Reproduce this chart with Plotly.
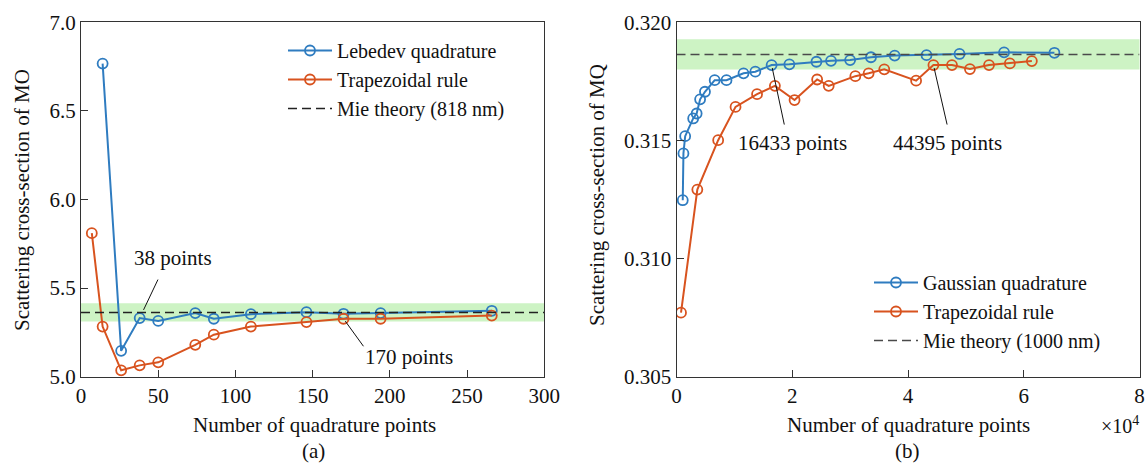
import plotly.graph_objects as go

# ---------------- data: panel (a) ----------------
leb_x = [14, 26, 38, 50, 74, 86, 110, 146, 170, 194, 266]
leb_y = [6.767, 5.146, 5.331, 5.315, 5.359, 5.327, 5.353, 5.364, 5.355, 5.359, 5.372]
trap_a_x = [7, 14, 26, 38, 50, 74, 86, 110, 146, 170, 194, 266]
trap_a_y = [5.81, 5.283, 5.036, 5.064, 5.081, 5.18, 5.237, 5.283, 5.308, 5.327, 5.327, 5.345]
mie_a = 5.362
band_a = [5.312, 5.415]

# ---------------- data: panel (b) ----------------
gauss_x = [1080, 1200, 1500, 2880, 3480, 4080, 4920, 6600, 8640, 11580, 13620, 16433,
           19500, 24180, 26700, 30000, 33600, 37700, 43200, 48900, 56600, 65300]
gauss_y = [0.31247, 0.31445, 0.31518, 0.31593, 0.31614, 0.31674, 0.31706, 0.31755, 0.31755,
           0.31784, 0.31791, 0.31819, 0.31822, 0.31833, 0.31837, 0.31840, 0.31852, 0.31859,
           0.31861, 0.31866, 0.31873, 0.31871]
trap_b_x = [780, 3600, 7200, 10200, 13920, 17000, 20400, 24300, 26300, 30900, 33200, 35900,
            41400, 44395, 47600, 50700, 54000, 57600, 61400]
trap_b_y = [0.30771, 0.31292, 0.31501, 0.31642, 0.31696, 0.31731, 0.31671, 0.31758, 0.31731,
            0.31772, 0.31784, 0.31801, 0.31753, 0.31819, 0.31819, 0.31802, 0.31819, 0.31826,
            0.31836]
mie_b = 0.31864
band_b = [0.31800, 0.31928]

xticks_b = [0, 20000, 40000, 60000, 80000]
xticktext_b = ["0", "2", "4", "6", "8"]

BLUE = "#2F7CC0"
RED = "#D8531F"
GREEN = "#CDF3C4"
FONT = "Liberation Serif, Times New Roman, DejaVu Serif, serif"
FS = 21
W, H = 1145, 465

fig = go.Figure()

mk = dict(symbol="circle-open", size=10, line=dict(width=1.8))

fig.add_trace(go.Scatter(x=leb_x, y=leb_y, mode="lines+markers", name="Lebedev quadrature",
                         line=dict(color=BLUE, width=2), marker=dict(color=BLUE, **mk),
                         xaxis="x", yaxis="y", legend="legend"))
fig.add_trace(go.Scatter(x=trap_a_x, y=trap_a_y, mode="lines+markers", name="Trapezoidal rule",
                         line=dict(color=RED, width=2), marker=dict(color=RED, **mk),
                         xaxis="x", yaxis="y", legend="legend"))
fig.add_trace(go.Scatter(x=[0, 300], y=[mie_a, mie_a], mode="lines", name="Mie theory (818 nm)",
                         line=dict(color="#222222", width=1.5, dash="9px,5px"),
                         xaxis="x", yaxis="y", legend="legend"))

fig.add_trace(go.Scatter(x=gauss_x, y=gauss_y, mode="lines+markers", name="Gaussian quadrature",
                         line=dict(color=BLUE, width=2), marker=dict(color=BLUE, **mk),
                         xaxis="x2", yaxis="y2", legend="legend2"))
fig.add_trace(go.Scatter(x=trap_b_x, y=trap_b_y, mode="lines+markers", name="Trapezoidal rule",
                         line=dict(color=RED, width=2), marker=dict(color=RED, **mk),
                         xaxis="x2", yaxis="y2", legend="legend2"))
fig.add_trace(go.Scatter(x=[0, 80000], y=[mie_b, mie_b], mode="lines", name="Mie theory (1000 nm)",
                         line=dict(color="#4a4a4a", width=1.5, dash="9px,5px"),
                         xaxis="x2", yaxis="y2", legend="legend2"))

# green tolerance bands
fig.add_shape(type="rect", xref="x domain", yref="y", x0=0, x1=1, y0=band_a[0], y1=band_a[1],
              fillcolor=GREEN, line=dict(width=0), layer="below")
fig.add_shape(type="rect", xref="x2 domain", yref="y2", x0=0, x1=1, y0=band_b[0], y1=band_b[1],
              fillcolor=GREEN, line=dict(width=0), layer="below")

yd = [(H - 376.7) / H, (H - 22.3) / H]
axis_common = dict(showline=True, mirror=True, linecolor="#333333", linewidth=1,
                   ticks="inside", ticklen=7, tickcolor="#333333", showgrid=False,
                   zeroline=False, automargin=False,
                   tickfont=dict(family=FONT, size=FS, color="#111111"))

lg = dict(xanchor="left", yanchor="top", bgcolor="rgba(0,0,0,0)",
          font=dict(family=FONT, size=20, color="#111111"), itemwidth=44, tracegroupgap=0)

fig.update_layout(
    width=W, height=H,
    margin=dict(l=0, r=0, t=0, b=0, autoexpand=False),
    paper_bgcolor="white", plot_bgcolor="white",
    font=dict(family=FONT, size=FS, color="#111111"),
    xaxis=dict(domain=[81 / W, 544.3 / W], range=[0, 300], tickvals=[0, 50, 100, 150, 200, 250, 300],
               anchor="y", **axis_common),
    yaxis=dict(domain=yd, range=[5, 7], tickvals=[5.0, 5.5, 6.0, 6.5, 7.0], tickformat=".1f",
               anchor="x", **axis_common),
    xaxis2=dict(domain=[676.5 / W, 1139.5 / W], range=[0, 80000], tickvals=xticks_b,
                ticktext=xticktext_b, anchor="y2", **axis_common),
    yaxis2=dict(domain=yd, range=[0.305, 0.320], tickvals=[0.305, 0.310, 0.315, 0.320],
                tickformat=".3f", anchor="x2", **axis_common),
    showlegend=True,
    legend=dict(x=(287 - 4) / W, y=(H - 31) / H, **lg),
    legend2=dict(x=(873 - 4) / W, y=(H - 263) / H, **lg),
)

ann = []
tf = dict(family=FONT, size=FS, color="#111111")


def txt(text, x, y, xref="paper", yref="paper", **kw):
    d = dict(text=text, xref=xref, yref=yref, x=x, y=y, showarrow=False, font=tf,
             xanchor="center", yanchor="middle")
    d.update(kw)
    return d


# axis titles and captions
ann.append(txt("Scattering cross-section of MO", 22 / W, (H - 200) / H, textangle=-90))
ann.append(txt("Scattering cross-section of MQ", 597 / W, (H - 195) / H, textangle=-90))
ann.append(txt("Number of quadrature points", 314 / W, (H - 425) / H))
ann.append(txt("Number of quadrature points", 908 / W, (H - 425) / H))
ann.append(txt("(a)", 313 / W, (H - 451) / H))
ann.append(txt("(b)", 907 / W, (H - 451) / H))
ann.append(txt("×10<sup>4</sup>", 1120 / W, (H - 425) / H, font=dict(family=FONT, size=20, color="#111111")))

# point callouts
ann.append(txt("38 points", 59.6, 5.670, "x", "y"))
ann.append(dict(text="", xref="x", yref="y", x=38, y=5.331, ax=19, ay=-40, showarrow=True,
                arrowhead=0, arrowwidth=1, arrowcolor="#111111", standoff=9))
ann.append(txt("170 points", 212.5, 5.114, "x", "y"))
ann.append(dict(text="", xref="x", yref="y", x=170, y=5.327, ax=21, ay=29, showarrow=True,
                arrowhead=0, arrowwidth=1, arrowcolor="#111111", standoff=3))
ann.append(txt("16433 points", 20045, 0.314898, "x2", "y2"))
ann.append(dict(text="", xref="x2", yref="y2", x=16433, y=0.31819, ax=13, ay=61, showarrow=True,
                arrowhead=0, arrowwidth=1, arrowcolor="#111111", standoff=3))
ann.append(txt("44395 points", 46795, 0.314898, "x2", "y2"))
ann.append(dict(text="", xref="x2", yref="y2", x=44395, y=0.31819, ax=14, ay=61, showarrow=True,
                arrowhead=0, arrowwidth=1, arrowcolor="#111111", standoff=3))

fig.update_layout(annotations=ann)

fig.write_html("out.html", config={"displayModeBar": False},
               post_script="document.body.style.margin='0';document.body.style.overflow='hidden';")
